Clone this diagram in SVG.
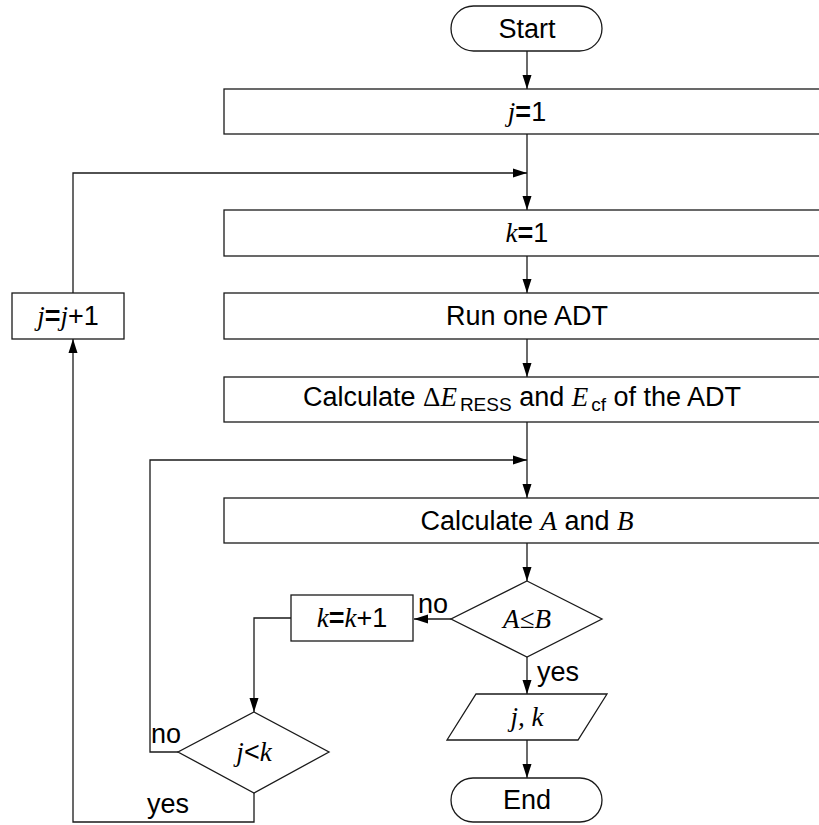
<svg xmlns="http://www.w3.org/2000/svg" width="819" height="825" viewBox="0 0 819 825">
<defs>
<marker id="ah" markerWidth="14" markerHeight="10" refX="14" refY="5" orient="auto" markerUnits="userSpaceOnUse">
<path d="M0,0.5 L14,5 L0,9.5 Z" fill="#000"/>
</marker>
<style>
.s{fill:#fff;stroke:#1a1a1a;stroke-width:1.3}
.c{fill:none;stroke:#1a1a1a;stroke-width:1.3}
.t{font-family:"Liberation Sans",Arial,sans-serif;font-size:27px;fill:#000}
.i{font-family:"Liberation Serif","Times New Roman",serif;font-style:italic}
.g{font-family:"Liberation Serif","Times New Roman",serif}
.b{font-weight:bold}
.sub{font-size:19px}
</style>
</defs>
<rect width="819" height="825" fill="#fff"/>
<g id="connectors">
<line class="c" x1="527" y1="51" x2="527" y2="89" marker-end="url(#ah)"/>
<line class="c" x1="527" y1="134" x2="527" y2="210" marker-end="url(#ah)"/>
<polyline class="c" points="73,293 73,173 527,173" marker-end="url(#ah)"/>
<line class="c" x1="527" y1="256" x2="527" y2="293" marker-end="url(#ah)"/>
<line class="c" x1="527" y1="339" x2="527" y2="377" marker-end="url(#ah)"/>
<line class="c" x1="527" y1="422" x2="527" y2="498" marker-end="url(#ah)"/>
<polyline class="c" points="178,752 150,752 150,460 527,460" marker-end="url(#ah)"/>
<line class="c" x1="527" y1="543" x2="527" y2="581" marker-end="url(#ah)"/>
<line class="c" x1="451" y1="619" x2="414" y2="619" marker-end="url(#ah)"/>
<polyline class="c" points="291,618 254,618 254,712" marker-end="url(#ah)"/>
<line class="c" x1="527" y1="657" x2="527" y2="694" marker-end="url(#ah)"/>
<line class="c" x1="527" y1="740" x2="527" y2="778" marker-end="url(#ah)"/>
<polyline class="c" points="254,793 254,822 73,822 73,339" marker-end="url(#ah)"/>
<text class="t" x="418" y="613">no</text>
<text class="t" x="537" y="681">yes</text>
<text class="t" x="151" y="743">no</text>
<text class="t" x="147" y="813">yes</text>
</g>
<g id="start">
<rect class="s" x="451" y="6" width="151" height="45" rx="22.5"/>
<text class="t" x="527" y="38" text-anchor="middle">Start</text>
</g>
<g id="j1">
<rect class="s" x="224" y="89" width="620" height="45"/>
<text class="t" x="527" y="121" text-anchor="middle"><tspan class="i">j</tspan><tspan class="b">=</tspan>1</text>
</g>
<g id="k1">
<rect class="s" x="224" y="210" width="620" height="46"/>
<text class="t" x="527" y="242" text-anchor="middle"><tspan class="i">k</tspan><tspan class="b">=</tspan>1</text>
</g>
<g id="run">
<rect class="s" x="224" y="293" width="620" height="46"/>
<text class="t" x="527" y="325" text-anchor="middle">Run one ADT</text>
</g>
<g id="calcE">
<rect class="s" x="224" y="377" width="620" height="45"/>
<text class="t" x="522" y="406" text-anchor="middle">Calculate <tspan class="g">Δ</tspan><tspan class="i">E</tspan><tspan class="sub" dx="3" dy="5">RESS</tspan><tspan dy="-5"> and </tspan><tspan class="i">E</tspan><tspan class="sub" dx="3" dy="5">cf</tspan><tspan dy="-5">  of the ADT</tspan></text>
</g>
<g id="calcAB">
<rect class="s" x="224" y="498" width="620" height="45"/>
<text class="t" x="527" y="530" text-anchor="middle">Calculate <tspan class="i">A</tspan> and <tspan class="i">B</tspan></text>
</g>
<g id="dAB">
<polygon class="s" points="527,581 602,619 527,657 451,619"/>
<text class="t i" x="527" y="628" text-anchor="middle">A≤B</text>
</g>
<g id="kk1">
<rect class="s" x="291" y="595" width="122" height="46"/>
<text class="t" x="352" y="627" text-anchor="middle"><tspan class="i">k</tspan><tspan class="b">=</tspan><tspan class="i">k</tspan>+1</text>
</g>
<g id="jj1">
<rect class="s" x="12" y="293" width="112" height="46"/>
<text class="t" x="68" y="325" text-anchor="middle"><tspan class="i">j</tspan><tspan class="b">=</tspan><tspan class="i">j</tspan>+1</text>
</g>
<g id="djk">
<polygon class="s" points="254,712 329,752 254,793 178,752"/>
<text class="t" x="254" y="761" text-anchor="middle"><tspan class="i">j</tspan>&lt;<tspan class="i">k</tspan></text>
</g>
<g id="out">
<polygon class="s" points="476,694 607,694 578,740 447,740"/>
<text class="t i" x="527" y="726" text-anchor="middle">j, k</text>
</g>
<g id="end">
<rect class="s" x="451" y="778" width="151" height="44" rx="22"/>
<text class="t" x="527" y="809" text-anchor="middle">End</text>
</g>
</svg>
